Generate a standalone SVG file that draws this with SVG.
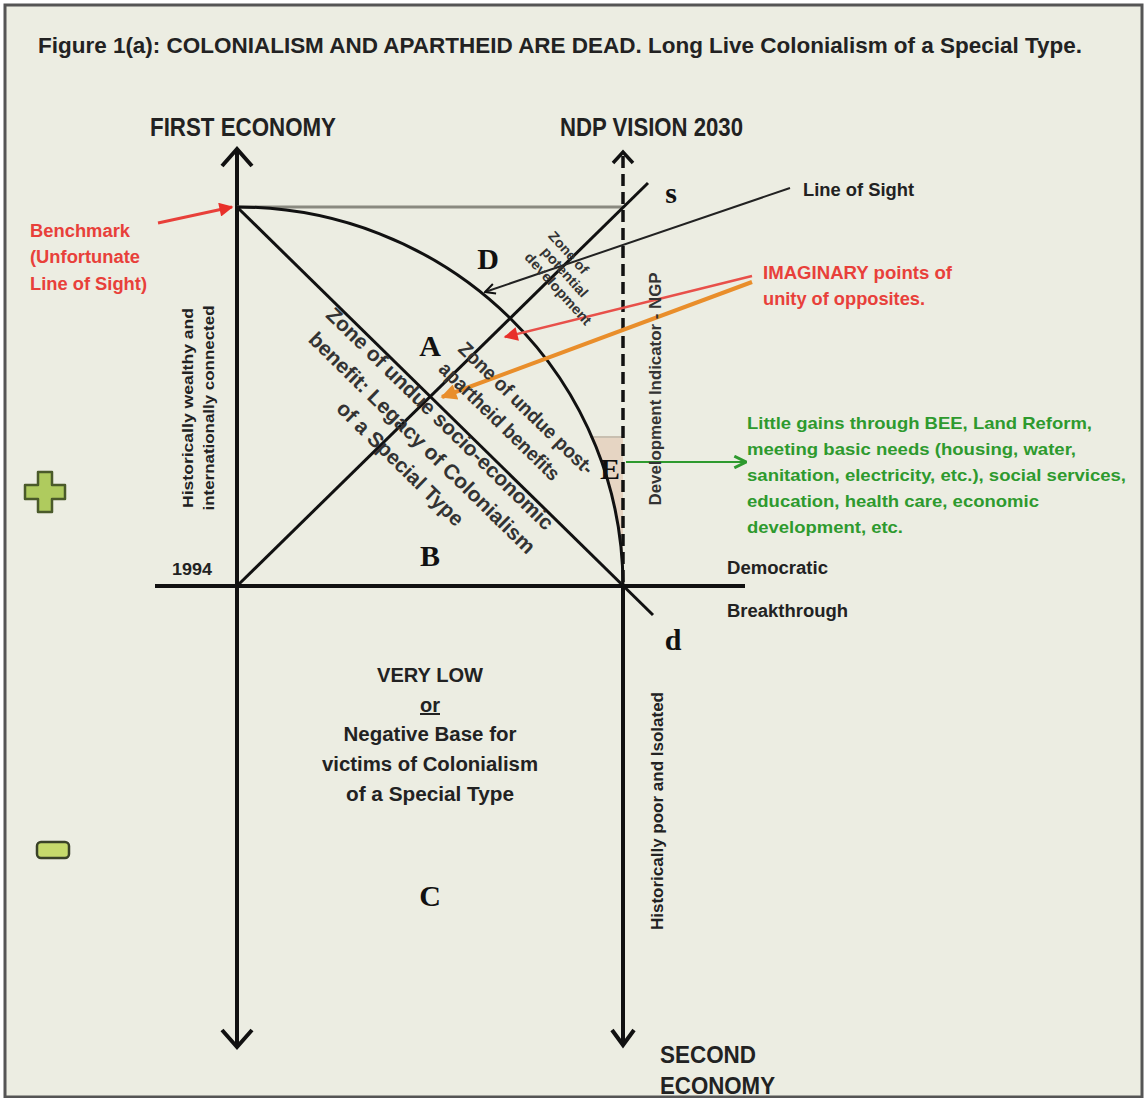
<svg xmlns="http://www.w3.org/2000/svg" width="1146" height="1104" viewBox="0 0 1146 1104">
<style>
.t{font-family:"Liberation Sans Narrow","Liberation Sans",Arial,sans-serif;font-weight:bold;fill:#222}
.r{fill:#E8403A}
.g{fill:#2E9A2E}
.rot{fill:#333}
.L{font-family:"Liberation Serif","Times New Roman",serif;font-weight:bold;fill:#111;font-size:30px;text-anchor:middle}
.ax{stroke:#111;stroke-width:4;fill:none}
.ln{stroke:#111;stroke-width:3;fill:none}
</style>
<defs>
<marker id="chev" viewBox="0 0 12 12" refX="11" refY="6" markerWidth="12" markerHeight="12" markerUnits="userSpaceOnUse" orient="auto"><path d="M1,1 L11,6 L1,11" fill="none" stroke="#111" stroke-width="2"/></marker>
<marker id="chevG" viewBox="0 0 12 12" refX="11" refY="6" markerWidth="14" markerHeight="14" markerUnits="userSpaceOnUse" orient="auto"><path d="M1,1 L11,6 L1,11" fill="none" stroke="#2E9A2E" stroke-width="2.5"/></marker>
<marker id="triR" viewBox="0 0 10 10" refX="9" refY="5" markerWidth="16" markerHeight="14" markerUnits="userSpaceOnUse" orient="auto"><path d="M0,0 L10,5 L0,10 Z" fill="#E8302A"/></marker>
<marker id="triO" viewBox="0 0 10 10" refX="9" refY="5" markerWidth="18" markerHeight="16" markerUnits="userSpaceOnUse" orient="auto"><path d="M0,0 L10,5 L0,10 Z" fill="#E98E2B"/></marker>
</defs>
<rect x="5" y="5" width="1137" height="1092" fill="#ECEDE2" stroke="#555" stroke-width="3"/>
<rect x="0" y="1098" width="1146" height="6" fill="#fff"/>

<g id="title"><text class="t" x="38" y="53" font-size="22" textLength="1044" lengthAdjust="spacingAndGlyphs">Figure 1(a): COLONIALISM AND APARTHEID ARE DEAD. Long Live Colonialism of a Special Type.</text></g>

<g id="zoneE"><path d="M592,437 L623,437 L623,586 A386,379 0 0 0 592,437 Z" fill="#E6D2C0" opacity="0.9"/><line x1="590" y1="437" x2="623" y2="437" stroke="#C8BFB0" stroke-width="2"/></g>

<g id="connectors">
  <line class="ax" x1="237" y1="150" x2="237" y2="1046"/>
  <path class="ax" d="M222,166 L237,149 L252,166"/>
  <path class="ax" d="M222,1030 L237,1047 L252,1030"/>
  <line class="ax" x1="155" y1="586" x2="745" y2="586"/>
  <line x1="623" y1="156" x2="623" y2="584" stroke="#111" stroke-width="3.5" stroke-dasharray="12,6"/>
  <path d="M613,163 L623,152 L633,163" fill="none" stroke="#111" stroke-width="3.5"/>
  <line class="ax" x1="623" y1="586" x2="623" y2="1044"/>
  <path class="ax" d="M612,1030 L623,1045 L634,1030"/>
  <line x1="237" y1="207" x2="623" y2="207" stroke="#8A8A80" stroke-width="3"/>
  <path class="ln" d="M237,207 A386,379 0 0 1 623,586"/>
  <line class="ln" x1="237" y1="207" x2="653" y2="615"/>
  <line class="ln" x1="237" y1="586" x2="648" y2="183"/>
  <line x1="790" y1="188" x2="485" y2="292" stroke="#222" stroke-width="2" marker-end="url(#chev)"/>
  <line x1="158" y1="223" x2="232" y2="207" stroke="#E8403A" stroke-width="3" marker-end="url(#triR)"/>
  <line x1="752" y1="276" x2="505" y2="337" stroke="#E8504A" stroke-width="2.5" marker-end="url(#triR)"/>
  <line x1="752" y1="282" x2="442" y2="397" stroke="#E98E2B" stroke-width="4" marker-end="url(#triO)"/>
  <line x1="626" y1="462" x2="746" y2="462" stroke="#2E9A2E" stroke-width="2" marker-end="url(#chevG)"/>
</g>

<g id="first-economy"><text class="t" x="150" y="136" font-size="25" textLength="186" lengthAdjust="spacingAndGlyphs">FIRST ECONOMY</text></g>
<g id="ndp-vision"><text class="t" x="560" y="136" font-size="25" textLength="183" lengthAdjust="spacingAndGlyphs">NDP VISION 2030</text></g>
<g id="second-economy">
  <text class="t" x="660" y="1063" font-size="24" textLength="96" lengthAdjust="spacingAndGlyphs">SECOND</text>
  <text class="t" x="660" y="1094" font-size="24" textLength="115" lengthAdjust="spacingAndGlyphs">ECONOMY</text>
</g>
<g id="year-1994"><text class="t" x="172" y="575" font-size="17" textLength="40" lengthAdjust="spacingAndGlyphs">1994</text></g>
<g id="democratic-breakthrough">
  <text class="t" x="727" y="574" font-size="18" textLength="101" lengthAdjust="spacingAndGlyphs">Democratic</text>
  <text class="t" x="727" y="617" font-size="18" textLength="121" lengthAdjust="spacingAndGlyphs">Breakthrough</text>
</g>
<g id="line-of-sight"><text class="t" x="803" y="196" font-size="19" textLength="111" lengthAdjust="spacingAndGlyphs">Line of Sight</text></g>
<g id="imaginary">
  <text class="t r" x="763" y="279" font-size="19" textLength="189" lengthAdjust="spacingAndGlyphs">IMAGINARY points of</text>
  <text class="t r" x="763" y="305" font-size="19" textLength="162" lengthAdjust="spacingAndGlyphs">unity of opposites.</text>
</g>
<g id="benchmark">
  <text class="t r" x="30" y="237" font-size="18" textLength="100" lengthAdjust="spacingAndGlyphs">Benchmark</text>
  <text class="t r" x="30" y="263" font-size="18" textLength="110" lengthAdjust="spacingAndGlyphs">(Unfortunate</text>
  <text class="t r" x="30" y="290" font-size="18" textLength="117" lengthAdjust="spacingAndGlyphs">Line of Sight)</text>
</g>
<g id="little-gains">
  <text class="t g" x="747" y="429" font-size="17" textLength="345" lengthAdjust="spacingAndGlyphs">Little gains through BEE, Land Reform,</text>
  <text class="t g" x="747" y="455" font-size="17" textLength="329" lengthAdjust="spacingAndGlyphs">meeting basic needs (housing, water,</text>
  <text class="t g" x="747" y="481" font-size="17" textLength="379" lengthAdjust="spacingAndGlyphs">sanitation, electricity, etc.), social services,</text>
  <text class="t g" x="747" y="507" font-size="17" textLength="292" lengthAdjust="spacingAndGlyphs">education, health care, economic</text>
  <text class="t g" x="747" y="533" font-size="17" textLength="156" lengthAdjust="spacingAndGlyphs">development, etc.</text>
</g>
<g id="very-low" text-anchor="middle">
  <text class="t" x="430" y="682" font-size="20" textLength="106" lengthAdjust="spacingAndGlyphs">VERY LOW</text>
  <text class="t" x="430" y="712" font-size="20" text-decoration="underline">or</text>
  <text class="t" x="430" y="741" font-size="20" textLength="173" lengthAdjust="spacingAndGlyphs">Negative Base for</text>
  <text class="t" x="430" y="771" font-size="20" textLength="216" lengthAdjust="spacingAndGlyphs">victims of Colonialism</text>
  <text class="t" x="430" y="801" font-size="20" textLength="168" lengthAdjust="spacingAndGlyphs">of a Special Type</text>
</g>
<g id="zone-legacy" transform="translate(417,448) rotate(44.3)" text-anchor="middle">
  <text class="t rot" x="-4" y="-30" font-size="21" textLength="308" lengthAdjust="spacingAndGlyphs">Zone of undue socio-economic</text>
  <text class="t rot" x="0" y="0" font-size="21" textLength="307" lengthAdjust="spacingAndGlyphs">benefit: Legacy of Colonialism</text>
  <text class="t rot" x="-1" y="30" font-size="21" textLength="168" lengthAdjust="spacingAndGlyphs">of a Special Type</text>
</g>
<g id="zone-post-apartheid" transform="translate(513,416) rotate(44.3)" text-anchor="middle">
  <text class="t rot" x="4" y="-8" font-size="20" textLength="180" lengthAdjust="spacingAndGlyphs">Zone of undue post-</text>
  <text class="t rot" x="-6" y="20" font-size="20" textLength="160" lengthAdjust="spacingAndGlyphs">apartheid benefits</text>
</g>
<g id="zone-potential" transform="translate(568,280) rotate(48)" text-anchor="middle">
  <text class="t rot" x="-20" y="-14" font-size="14" textLength="52" lengthAdjust="spacingAndGlyphs">Zone of</text>
  <text class="t rot" x="-8" y="2" font-size="14" textLength="62" lengthAdjust="spacingAndGlyphs">potential</text>
  <text class="t rot" x="0" y="18" font-size="14" textLength="92" lengthAdjust="spacingAndGlyphs">development</text>
</g>
<g id="development-indicator"><text class="t rot" transform="translate(661,389) rotate(-90)" text-anchor="middle" font-size="16" textLength="233" lengthAdjust="spacingAndGlyphs">Development Indicator - NGP</text></g>
<g id="wealthy"><text class="t" transform="translate(193,408) rotate(-90)" text-anchor="middle" font-size="15" textLength="200" lengthAdjust="spacingAndGlyphs">Historically wealthy and</text>
<text class="t" transform="translate(214,408) rotate(-90)" text-anchor="middle" font-size="15" textLength="205" lengthAdjust="spacingAndGlyphs">internationally connected</text></g>
<g id="poor"><text class="t" transform="translate(663,811) rotate(-90)" text-anchor="middle" font-size="16" textLength="238" lengthAdjust="spacingAndGlyphs">Historically poor and Isolated</text></g>

<g id="letters">
  <text class="L" x="430" y="356">A</text>
  <text class="L" x="430" y="566">B</text>
  <text class="L" x="430" y="906">C</text>
  <text class="L" x="488" y="269">D</text>
  <text class="L" x="610" y="479">E</text>
  <text class="L" x="671" y="203" font-size="28">s</text>
  <text class="L" x="673" y="650" font-size="28">d</text>
</g>
<g id="plus"><path d="M38,472 H52 V485 H65 V499 H52 V512 H38 V499 H25 V485 H38 Z" fill="#AFCB5E" stroke="#4A5A2A" stroke-width="2.5" stroke-linejoin="round"/></g>
<g id="minus"><rect x="37" y="842" width="32" height="16" rx="4" fill="#C6DA6C" stroke="#3A4228" stroke-width="2.5"/></g>
</svg>
